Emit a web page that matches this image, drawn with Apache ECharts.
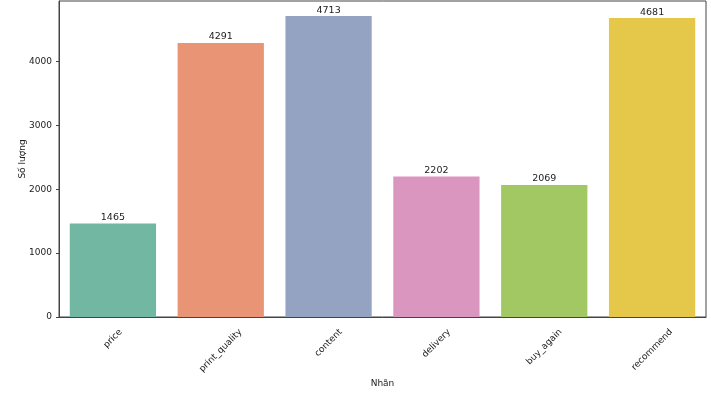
<!DOCTYPE html>
<html><head><meta charset="utf-8">
<script src="https://cdn.jsdelivr.net/npm/echarts@6/dist/echarts.min.js"></script>
<style>html,body{margin:0;padding:0;background:#fff}#c{width:711px;height:394px}</style>
</head><body><div id="c"></div>
<script>
var categories = ['price', 'print_quality', 'content', 'delivery', 'buy_again', 'recommend'];
var counts = [1465, 4291, 4713, 2202, 2069, 4681];
var colors = ['#71b7a1', '#e99575', '#95a3c3', '#db96c0', '#a2c864', '#e5c849'];
var yTicks = [0, 1000, 2000, 3000, 4000];

var FONT = 'DejaVu Sans';
var TICK_FS = 9;
var cv = document.createElement('canvas').getContext('2d');
cv.font = TICK_FS + 'px "' + FONT + '"';
var lineH = TICK_FS * 1.15;

var yMax = Math.max.apply(null, counts) * 1.05;
var chart = echarts.init(document.getElementById('c'));
chart.setOption({
  animation: false,
  textStyle: { fontFamily: FONT },
  grid: { left: 59, right: 5, top: 1, bottom: 77, show: true, borderColor: '#444', borderWidth: 1, containLabel: false, outerBoundsMode: 'none' },
  xAxis: {
    type: 'category',
    data: categories,
    name: 'Nhãn',
    nameLocation: 'middle',
    nameGap: 62,
    nameMoveOverlap: false,
    nameTextStyle: { fontSize: 9, color: '#222', fontFamily: FONT },
    axisLine: { lineStyle: { color: '#444', width: 1 } },
    axisTick: { alignWithLabel: true, length: 3, lineStyle: { color: '#444' } },
    axisLabel: { show: false }
  },
  yAxis: {
    type: 'value',
    min: 0,
    max: yMax,
    interval: 1000,
    name: 'Số lượng',
    nameLocation: 'middle',
    nameGap: 32,
    nameMoveOverlap: false,
    nameTextStyle: { fontSize: 9, color: '#222', fontFamily: FONT },
    axisLine: { show: true, lineStyle: { color: '#444', width: 1 } },
    axisTick: { show: true, length: 3, lineStyle: { color: '#444' } },
    axisLabel: { fontSize: TICK_FS, color: '#222', margin: 7, fontFamily: FONT, showMaxLabel: false,
      formatter: function (v) { return yTicks.indexOf(v) >= 0 ? String(v) : ''; } },
    splitLine: { show: false }
  },
  series: [{
    type: 'bar',
    barWidth: '80%',
    data: counts.map(function (v, i) { return { value: v, itemStyle: { color: colors[i] } }; }),
    label: { show: true, position: 'top', distance: 1, fontSize: 9.5, color: '#222', fontFamily: FONT }
  }, {
    type: 'custom',
    silent: true,
    clip: false,
    data: categories.map(function (c, i) { return [i, 0]; }),
    renderItem: function (params, api) {
      var name = categories[params.dataIndex];
      var pt = api.coord([api.value(0), 0]);
      var w = cv.measureText(name).width;
      var half = (w + lineH) * 0.3536;
      return {
        type: 'text',
        x: pt[0],
        y: pt[1] + 10 + half,
        rotation: Math.PI / 4,
        style: { text: name, textAlign: 'center', textVerticalAlign: 'middle', fontSize: TICK_FS, fontFamily: FONT, fill: '#222' }
      };
    }
  }]
});
</script></body></html>
